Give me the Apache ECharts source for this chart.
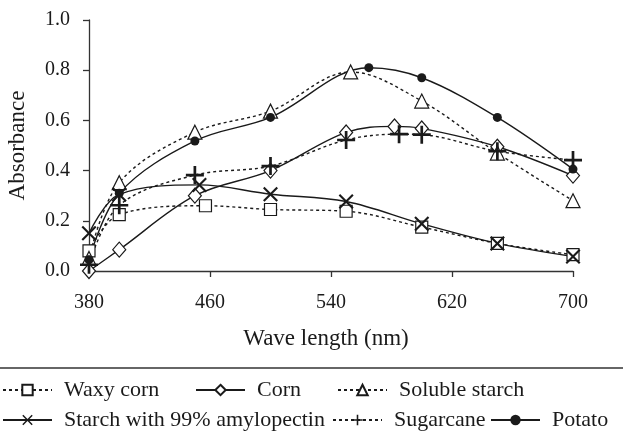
<!DOCTYPE html>
<html>
<head>
<meta charset="utf-8">
<script src="https://cdn.jsdelivr.net/npm/echarts@6/dist/echarts.min.js"></script>
<style>
  html, body { margin: 0; padding: 0; background: #fff; }
  #main { width: 623px; height: 446px; }
</style>
</head>
<body>
<div id="main"></div>
<script>
// values: [wavelength nm, absorbance]
var waxyCorn = [[380, 0.08], [400, 0.225], [457, 0.26], [500, 0.245], [550, 0.238], [600, 0.175], [650, 0.11], [700, 0.065]];
var corn = [[380, 0.0], [400, 0.085], [450, 0.3], [500, 0.4], [550, 0.552], [582, 0.576], [600, 0.568], [650, 0.495], [700, 0.38]];
var solubleStarch = [[380, 0.05], [400, 0.352], [450, 0.553], [500, 0.637], [553, 0.793], [600, 0.677], [650, 0.47], [700, 0.28]];
var amylopectin = [[380, 0.15], [400, 0.305], [453, 0.343], [500, 0.306], [550, 0.277], [600, 0.188], [650, 0.11], [700, 0.058]];
var sugarcane = [[380, 0.025], [400, 0.262], [450, 0.382], [500, 0.418], [550, 0.522], [585, 0.545], [600, 0.543], [650, 0.477], [700, 0.442]];
var potato = [[380, 0.045], [400, 0.31], [450, 0.518], [500, 0.612], [565, 0.81], [600, 0.77], [650, 0.612], [700, 0.406]];

var xTicks = [380, 460, 540, 620, 700];
var yTicks = [0.0, 0.2, 0.4, 0.6, 0.8, 1.0];

var seriesNames = ['Waxy corn', 'Corn', 'Soluble starch', 'Starch with 99% amylopectin', 'Sugarcane', 'Potato'];

var plusPath = 'path://M8.5,0 H11.5 V8.5 H20 V11.5 H11.5 V20 H8.5 V11.5 H0 V8.5 H8.5 Z';
var crossPath = 'path://M0,2 L2,0 L10,8 L18,0 L20,2 L12,10 L20,18 L18,20 L10,12 L2,20 L0,18 L8,10 Z';

var serif = '"Liberation Serif", "DejaVu Serif", serif';
var ink = '#1a1a1a';

function makeSeries(name, data, dotted, symbol, size, hollow) {
    return {
        name: name,
        type: 'line',
        data: data,
        smooth: 0.35,
        symbol: symbol,
        symbolSize: size,
        symbolKeepAspect: true,
        lineStyle: { color: ink, width: 1.4, type: dotted ? [3, 3] : 'solid' },
        itemStyle: hollow
            ? { color: '#fff', borderColor: ink, borderWidth: 1.2 }
            : { color: ink, borderWidth: 0 },
        emphasis: { disabled: true },
        animation: false
    };
}

// legend item positions (left, top)
var legendPos = [[2, 379], [195, 379], [337, 379], [2, 409], [332, 409], [490, 409]];
var legends = seriesNames.map(function (n, i) {
    return {
        data: [n],
        left: legendPos[i][0],
        top: legendPos[i][1],
        padding: 0,
        itemWidth: 49,
        itemHeight: 13,
        itemGap: 0,
        selectedMode: false,
        textStyle: { fontFamily: serif, fontSize: 22, color: ink, padding: [0, 0, 0, 7] }
    };
});

var myChart = echarts.init(document.getElementById('main'), null, { renderer: 'canvas' });

var option = {
    backgroundColor: '#fff',
    animation: false,
    grid: { left: 89, top: 20, right: 50, bottom: 175, containLabel: false, outerBoundsMode: 'none' },
    legend: legends,
    xAxis: {
        type: 'value',
        min: xTicks[0],
        max: xTicks[xTicks.length - 1],
        interval: 80,
        name: 'Wave length (nm)',
        nameLocation: 'middle',
        nameGap: 56,
        nameTextStyle: { fontFamily: serif, fontSize: 23, color: ink, padding: [0, 10, 0, 0] },
        axisLine: { lineStyle: { color: '#333', width: 1.3 } },
        axisTick: { show: true, length: 6, lineStyle: { color: '#333', width: 1.3 } },
        axisLabel: { fontFamily: serif, fontSize: 20, color: ink, margin: 22 },
        splitLine: { show: false }
    },
    yAxis: {
        type: 'value',
        min: yTicks[0],
        max: yTicks[yTicks.length - 1],
        interval: 0.2,
        name: 'Absorbance',
        nameLocation: 'middle',
        nameGap: 60,
        nameRotate: 90,
        nameTextStyle: { fontFamily: serif, fontSize: 23, color: ink },
        axisLine: { show: true, lineStyle: { color: '#333', width: 1.3 } },
        axisTick: { show: true, length: 6, lineStyle: { color: '#333', width: 1.3 } },
        axisLabel: {
            fontFamily: serif, fontSize: 20, color: ink, margin: 19,
            formatter: function (v) { return v.toFixed(1); }
        },
        splitLine: { show: false }
    },
    graphic: [{
        type: 'line',
        shape: { x1: 0, y1: 368, x2: 623, y2: 368 },
        style: { stroke: '#666', lineWidth: 2 }
    }],
    series: [
        makeSeries(seriesNames[0], waxyCorn, true, 'rect', 12, true),
        makeSeries(seriesNames[1], corn, false, 'diamond', [13, 15], true),
        makeSeries(seriesNames[2], solubleStarch, true, 'triangle', 14, true),
        makeSeries(seriesNames[3], amylopectin, false, crossPath, 15, false),
        makeSeries(seriesNames[4], sugarcane, true, plusPath, 18, false),
        makeSeries(seriesNames[5], potato, false, 'circle', 9, false)
    ]
};

myChart.setOption(option);
</script>
</body>
</html>
